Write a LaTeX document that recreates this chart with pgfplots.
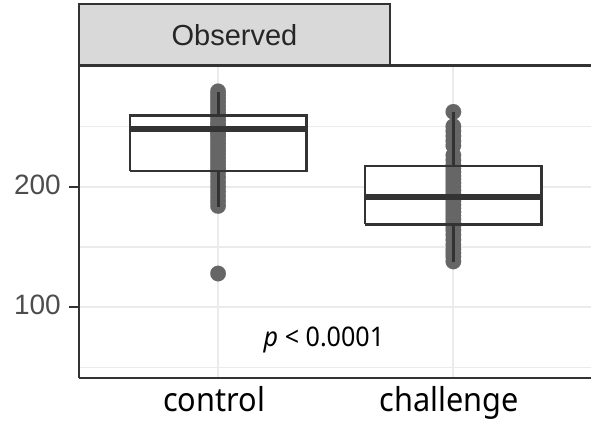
\documentclass[border=0pt]{standalone}
\usepackage{pgfplots}
\pgfplotsset{compat=1.18}
\usepackage{pgfplotstable}
\usepackage{fontspec}
\setmainfont{Liberation Sans}
\newfontfamily\robfont{Noto Sans}[FakeStretch=0.93]
\definecolor{c33}{HTML}{333333}
\definecolor{gridc}{HTML}{EBEBEB}
\definecolor{ptc}{HTML}{666666}
\definecolor{stripc}{HTML}{D9D9D9}
\definecolor{tickc}{HTML}{4D4D4D}

\pgfplotstableread{
x y
1 279
1 276
1 273
1 270
1 267
1 264
1 261
1 258
1 255
1 252
1 250
1 248
1 247
1 246
1 244
1 242
1 239
1 236
1 233
1 230
1 227
1 224
1 221
1 218
1 215
1 212
1 208
1 204
1 200
1 196
1 192
1 188
1 184
1 128
}\ctrlpts

\pgfplotstableread{
x y
2 262
2 250
2 246
2 242
2 238
2 234
2 226
2 222
2 218
2 215
2 212
2 209
2 206
2 203
2 200
2 197
2 194
2 191
2 188
2 185
2 182
2 179
2 176
2 173
2 170
2 167
2 164
2 160
2 156
2 152
2 148
2 145
2 142
2 138
}\chalpts

\begin{document}
\begin{tikzpicture}
\draw[fill=stripc, draw=c33, line width=2.2bp] (79bp,357bp) rectangle (390bp,419bp);
\node[font=\fontsize{29bp}{34bp}\selectfont, text=black!85, inner sep=0pt] at (234.5bp,388bp) {Observed};
\begin{axis}[
  set layers,
  at={(79bp,45bp)}, anchor=south west,
  scale only axis, width=512bp, height=312bp,
  xmin=0.409, xmax=2.585, ymin=41.4, ymax=300,
  axis x line*=bottom, axis y line*=left,
  axis line style={draw=c33, line width=2bp},
  xtick={1,2}, xticklabels={control,challenge},
  ytick={100,200}, minor ytick={50,150,250},
  grid=both,
  major grid style={draw=gridc, line width=2.2bp},
  minor grid style={draw=gridc, line width=1.2bp},
  tick align=outside,
  major tick length=10bp, minor tick length=0pt,
  y tick style={draw=c33, line width=2bp},
  x tick style={draw=none},
  /pgf/number format/assume math mode=true,
  yticklabel style={font=\fontsize{28bp}{33bp}\selectfont, text=tickc, anchor=east, inner sep=0pt, xshift=-8bp, yshift=2bp},
  xticklabel style={font=\robfont\fontsize{33bp}{38bp}\selectfont, text=black, anchor=base, inner sep=0pt, yshift=-23bp, xshift=-4bp},
  clip=false,
]
% boxes (white fill)
\addplot[draw=none, fill=white] coordinates {(0.625,213) (1.375,213) (1.375,258.9) (0.625,258.9) (0.625,213)};
\addplot[draw=none, fill=white] coordinates {(1.625,168.8) (2.375,168.8) (2.375,217.2) (1.625,217.2) (1.625,168.8)};
% points
\addplot[only marks, color=ptc, mark=*, mark size=7.8bp, mark options={solid, fill=ptc, draw=ptc, line width=0.1bp}] table[x=x, y=y] {\ctrlpts};
\addplot[only marks, color=ptc, mark=*, mark size=7.8bp, mark options={solid, fill=ptc, draw=ptc, line width=0.1bp}] table[x=x, y=y] {\chalpts};
% box outlines
\addplot[on layer=axis foreground, draw=c33, line width=2.5bp, line join=miter] coordinates {(0.625,213) (1.375,213) (1.375,258.9) (0.625,258.9) (0.625,213)};
\addplot[on layer=axis foreground, draw=c33, line width=2.5bp, line join=miter] coordinates {(1.625,168.8) (2.375,168.8) (2.375,217.2) (1.625,217.2) (1.625,168.8)};
% whiskers
\addplot[on layer=axis foreground, draw=c33, line width=3bp] coordinates {(1,258.9) (1,278.8)};
\addplot[on layer=axis foreground, draw=c33, line width=3bp] coordinates {(1,213) (1,183.4)};
\addplot[on layer=axis foreground, draw=c33, line width=3bp] coordinates {(2,217.2) (2,262.2)};
\addplot[on layer=axis foreground, draw=c33, line width=3bp] coordinates {(2,168.8) (2,137.8)};
% medians
\addplot[on layer=axis foreground, draw=c33, line width=6bp] coordinates {(0.625,247.6) (1.375,247.6)};
\addplot[on layer=axis foreground, draw=c33, line width=6bp] coordinates {(1.625,191.2) (2.375,191.2)};
\draw[c33, line width=3bp] (rel axis cs:0,1) -- (rel axis cs:1,1);
\node[font=\robfont\fontsize{27bp}{31bp}\selectfont, text=black, inner sep=0pt] at (axis cs:1.45,73) {\textit{p} < 0.0001};
\end{axis}
\pgfresetboundingbox
\useasboundingbox (0,0) rectangle (591bp,423bp);
\end{tikzpicture}
\end{document}
